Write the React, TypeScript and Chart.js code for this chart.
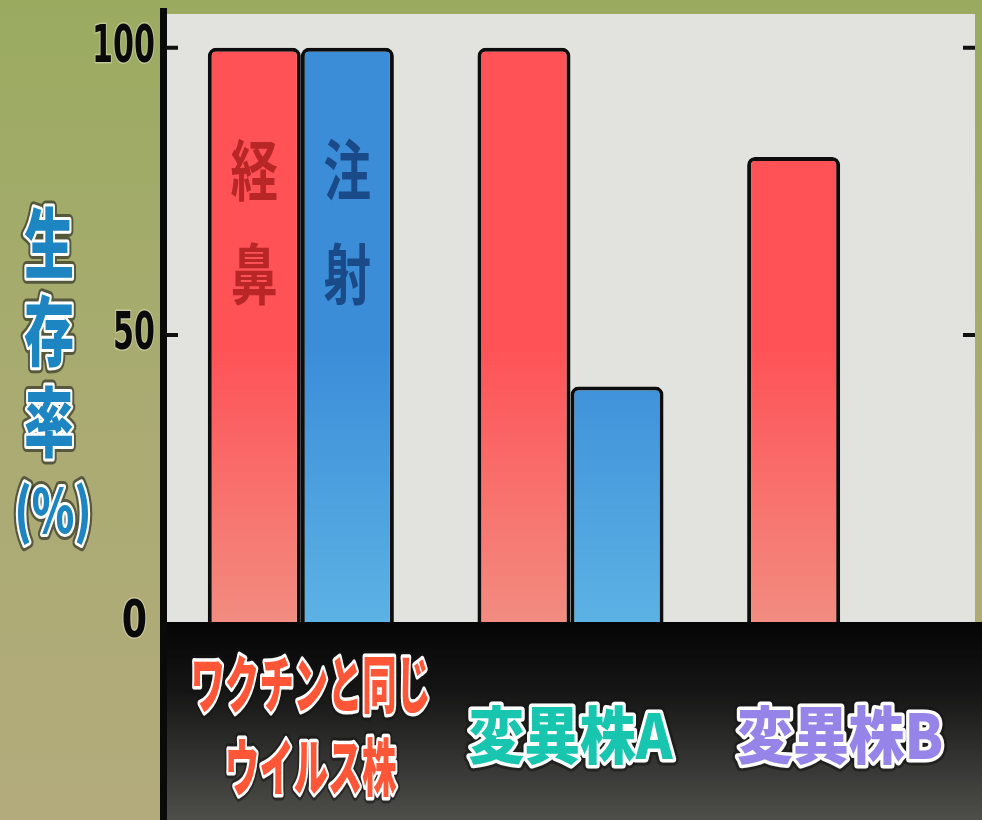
import React, { useEffect, useRef } from "react";
import { Chart, registerables } from "chart.js";
Chart.register(...registerables);

const categories: string[][] = [["ワクチンと同じ", "ウイルス株"], ["変異株A"], ["変異株B"]];
const categoryColors = ["#ff5638", "#18c6b0", "#9684e8"];
const seriesNames = ["経鼻", "注射"];
const nasalValues: (number | null)[] = [100, 100, 81];
const injectionValues: (number | null)[] = [100, 41, null];
const yTicks = [0, 50, 100];
const yTitle = ["生", "存", "率", "(%)"];

const W = 982;
const H = 820;

function grad(ctx: any, top: string, bottom: string, fallback: string) {
  const chart = ctx.chart;
  const ca = chart.chartArea;
  if (!ca) return fallback;
  const g = chart.ctx.createLinearGradient(0, ca.top, 0, ca.bottom);
  g.addColorStop(0, top);
  g.addColorStop(0.55, top);
  g.addColorStop(1, bottom);
  return g;
}

function outlinedText(
  c: CanvasRenderingContext2D,
  text: string,
  x: number,
  y: number,
  fill: string,
  sx: number,
  stroke = "#ffffff",
  sw = 7
) {
  c.save();
  c.translate(x, y);
  c.scale(sx, 1);
  c.lineJoin = "round";
  c.strokeStyle = "rgba(20,20,20,0.55)";
  c.lineWidth = sw + 6;
  c.strokeText(text, 0, 0);
  c.strokeStyle = stroke;
  c.lineWidth = sw;
  c.strokeText(text, 0, 0);
  c.fillStyle = fill;
  c.fillText(text, 0, 0);
  c.restore();
}

const decor = {
  id: "decor",
  beforeDraw(chart: any) {
    const c = chart.ctx as CanvasRenderingContext2D;
    const ca = chart.chartArea;
    c.save();
    const bg = c.createLinearGradient(0, 0, 0, H);
    bg.addColorStop(0, "#9aab60");
    bg.addColorStop(0.5, "#aaab72");
    bg.addColorStop(1, "#b3ab7c");
    c.fillStyle = bg;
    c.fillRect(0, 0, W, H);
    c.fillStyle = "#e2e2de";
    c.fillRect(ca.left, ca.top, ca.right - ca.left, ca.bottom - ca.top);
    const band = c.createLinearGradient(0, ca.bottom, 0, H);
    band.addColorStop(0, "#050505");
    band.addColorStop(0.35, "#151515");
    band.addColorStop(1, "#4e4e4a");
    c.fillStyle = band;
    c.fillRect(ca.left - 4, ca.bottom, W - ca.left + 4, H - ca.bottom);
    c.restore();
  },
  afterDraw(chart: any) {
    const c = chart.ctx as CanvasRenderingContext2D;
    const ca = chart.chartArea;
    const ys = chart.scales.y;
    const xs = chart.scales.x;
    c.save();
    // left axis line
    c.fillStyle = "#0a0a0a";
    c.fillRect(ca.left - 6, 8, 7, H - 8);
    // tick marks and labels
    c.strokeStyle = "#111";
    c.lineWidth = 4;
    c.font = "bold 52px 'DejaVu Sans'";
    c.textAlign = "right";
    c.textBaseline = "middle";
    ys.ticks.forEach((t: any) => {
      const y = ys.getPixelForValue(t.value);
      if (t.value !== 0) {
        c.beginPath();
        c.moveTo(ca.left, y);
        c.lineTo(ca.left + 12, y);
        c.moveTo(ca.right - 12, y);
        c.lineTo(ca.right, y);
        c.stroke();
      }
      c.save();
      c.translate(t.value === 0 ? 147 : 155, y + 1);
      c.scale(t.value === 0 ? 0.7 : 0.58, 1);
      c.lineJoin = "round";
      c.strokeStyle = "rgba(230,230,200,0.5)";
      c.lineWidth = 3;
      c.strokeText(String(t.value), 0, 0);
      c.fillStyle = "#0a0a0a";
      c.fillText(String(t.value), 0, 0);
      c.restore();
    });
    // y title stacked
    c.textAlign = "center";
    c.textBaseline = "middle";
    c.font = "900 76px 'Noto Sans CJK JP'";
    const titleY = [243, 331, 422];
    yTitle.forEach((ch, i) => {
      if (i < 3) {
        outlinedText(c, ch, 49, titleY[i], "#1d86c2", 0.66, "#ffffff", 6);
      } else {
        c.font = "900 60px 'Noto Sans CJK JP'";
        outlinedText(c, ch, 53, 510, "#1d86c2", 0.72, "#ffffff", 6);
      }
    });
    // bar labels
    c.font = "bold 66px 'Noto Sans CJK JP'";
    const barTextColors = ["#b82626", "#1a4a88"];
    seriesNames.forEach((name, di) => {
      const el = chart.getDatasetMeta(di).data[0];
      if (!el) return;
      const chars = Array.from(name);
      chars.forEach((ch, k) => {
        c.save();
        c.translate(el.x, el.y + 122 + k * 104);
        c.scale(0.72, 1);
        c.fillStyle = barTextColors[di];
        c.fillText(ch, 0, 0);
        c.restore();
      });
    });
    // x labels
    c.font = "900 62px 'Noto Sans CJK JP'";
    const maxW = 240;
    const lineH = 83;
    categories.forEach((lines, i) => {
      const x = xs.getPixelForValue(i);
      const widest = Math.max(...lines.map((l) => c.measureText(l).width));
      const sx = Math.min(1, maxW / widest) * (lines.length > 1 ? 1 : 0.9);
      const center = lines.length > 1 ? 726 : 735;
      lines.forEach((l, k) => {
        const y = center + (k - (lines.length - 1) / 2) * lineH;
        outlinedText(c, l, x + (lines.length > 1 ? 10 : 0), y, categoryColors[i], sx, "#ffffff", 7);
      });
    });
    c.restore();
  },
};

export default function App() {
  const ref = useRef<HTMLCanvasElement | null>(null);
  useEffect(() => {
    if (!ref.current) return;
    const chart = new Chart(ref.current, {
      type: "bar",
      data: {
        labels: categories.map((l) => l.join("")),
        datasets: [
          {
            label: seriesNames[0],
            data: nasalValues,
            backgroundColor: (ctx: any) => grad(ctx, "#ff5257", "#f28c80", "#ff5a5a"),
            borderColor: "#0d0d0d",
            borderWidth: 4,
            borderSkipped: "bottom",
            borderRadius: { topLeft: 8, topRight: 8, bottomLeft: 0, bottomRight: 0 },
          },
          {
            label: seriesNames[1],
            data: injectionValues,
            backgroundColor: (ctx: any) => grad(ctx, "#3b8dd8", "#5cb2e4", "#3b8dd8"),
            borderColor: "#0d0d0d",
            borderWidth: 4,
            borderSkipped: "bottom",
            borderRadius: { topLeft: 8, topRight: 8, bottomLeft: 0, bottomRight: 0 },
          },
        ],
      },
      options: {
        animation: false,
        responsive: false,
        devicePixelRatio: 1,
        datasets: { bar: { categoryPercentage: 0.69, barPercentage: 1 } },
        layout: { padding: { top: 14, right: 7, left: 0, bottom: 0 } },
        plugins: { legend: { display: false }, tooltip: { enabled: false }, title: { display: false } },
        scales: {
          x: {
            grid: { display: false },
            border: { display: false },
            ticks: { display: false },
            afterFit: (s: any) => {
              s.height = 198;
            },
          },
          y: {
            min: 0,
            max: 105.9,
            grid: { display: false },
            border: { display: false },
            ticks: { display: false },
            afterBuildTicks: (s: any) => {
              s.ticks = yTicks.map((v) => ({ value: v }));
            },
            afterFit: (s: any) => {
              s.width = 166;
            },
          },
        },
      },
      plugins: [decor],
    } as any);
    return () => chart.destroy();
  }, []);
  return (
    <div style={{ position: "fixed", left: 0, top: 0, width: W, height: H }}>
      <canvas ref={ref} width={W} height={H} style={{ display: "block" }} />
    </div>
  );
}
